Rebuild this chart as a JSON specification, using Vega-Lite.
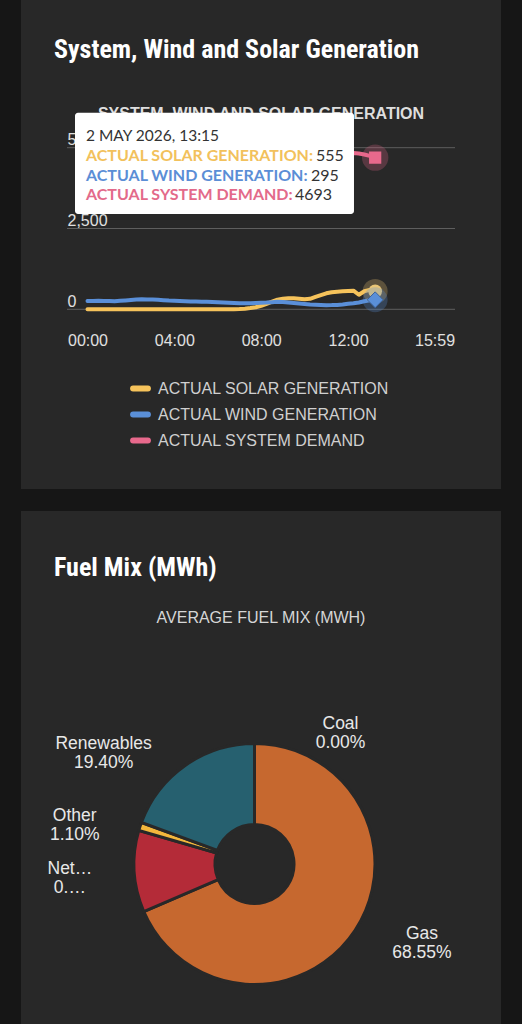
{
  "$schema": "https://vega.github.io/schema/vega-lite/v6.json",
  "background": "#161616",
  "padding": {"left": 21, "right": 21, "top": 0, "bottom": 0},
  "spacing": 22,
  "resolve": {"scale": {"color": "independent"}, "legend": {"color": "independent"}},
  "config": {
    "view": {"fill": "#282828", "stroke": null}
  },
  "datasets": {
    "gen": [
      {"time": "2026-05-02T00:00", "ACTUAL SOLAR GENERATION": 0, "ACTUAL WIND GENERATION": 255, "ACTUAL SYSTEM DEMAND": 4350},
      {"time": "2026-05-02T00:15", "ACTUAL SOLAR GENERATION": 0, "ACTUAL WIND GENERATION": 258, "ACTUAL SYSTEM DEMAND": 4310},
      {"time": "2026-05-02T00:30", "ACTUAL SOLAR GENERATION": 0, "ACTUAL WIND GENERATION": 262, "ACTUAL SYSTEM DEMAND": 4270},
      {"time": "2026-05-02T00:45", "ACTUAL SOLAR GENERATION": 0, "ACTUAL WIND GENERATION": 260, "ACTUAL SYSTEM DEMAND": 4220},
      {"time": "2026-05-02T01:00", "ACTUAL SOLAR GENERATION": 0, "ACTUAL WIND GENERATION": 255, "ACTUAL SYSTEM DEMAND": 4170},
      {"time": "2026-05-02T01:15", "ACTUAL SOLAR GENERATION": 0, "ACTUAL WIND GENERATION": 250, "ACTUAL SYSTEM DEMAND": 4120},
      {"time": "2026-05-02T01:30", "ACTUAL SOLAR GENERATION": 0, "ACTUAL WIND GENERATION": 262, "ACTUAL SYSTEM DEMAND": 4070},
      {"time": "2026-05-02T01:45", "ACTUAL SOLAR GENERATION": 0, "ACTUAL WIND GENERATION": 275, "ACTUAL SYSTEM DEMAND": 4030},
      {"time": "2026-05-02T02:00", "ACTUAL SOLAR GENERATION": 0, "ACTUAL WIND GENERATION": 290, "ACTUAL SYSTEM DEMAND": 3990},
      {"time": "2026-05-02T02:15", "ACTUAL SOLAR GENERATION": 0, "ACTUAL WIND GENERATION": 305, "ACTUAL SYSTEM DEMAND": 3950},
      {"time": "2026-05-02T02:30", "ACTUAL SOLAR GENERATION": 0, "ACTUAL WIND GENERATION": 310, "ACTUAL SYSTEM DEMAND": 3910},
      {"time": "2026-05-02T02:45", "ACTUAL SOLAR GENERATION": 0, "ACTUAL WIND GENERATION": 305, "ACTUAL SYSTEM DEMAND": 3880},
      {"time": "2026-05-02T03:00", "ACTUAL SOLAR GENERATION": 0, "ACTUAL WIND GENERATION": 300, "ACTUAL SYSTEM DEMAND": 3850},
      {"time": "2026-05-02T03:15", "ACTUAL SOLAR GENERATION": 0, "ACTUAL WIND GENERATION": 292, "ACTUAL SYSTEM DEMAND": 3820},
      {"time": "2026-05-02T03:30", "ACTUAL SOLAR GENERATION": 0, "ACTUAL WIND GENERATION": 282, "ACTUAL SYSTEM DEMAND": 3790},
      {"time": "2026-05-02T03:45", "ACTUAL SOLAR GENERATION": 0, "ACTUAL WIND GENERATION": 270, "ACTUAL SYSTEM DEMAND": 3760},
      {"time": "2026-05-02T04:00", "ACTUAL SOLAR GENERATION": 0, "ACTUAL WIND GENERATION": 262, "ACTUAL SYSTEM DEMAND": 3740},
      {"time": "2026-05-02T04:15", "ACTUAL SOLAR GENERATION": 0, "ACTUAL WIND GENERATION": 255, "ACTUAL SYSTEM DEMAND": 3720},
      {"time": "2026-05-02T04:30", "ACTUAL SOLAR GENERATION": 0, "ACTUAL WIND GENERATION": 250, "ACTUAL SYSTEM DEMAND": 3700},
      {"time": "2026-05-02T04:45", "ACTUAL SOLAR GENERATION": 0, "ACTUAL WIND GENERATION": 242, "ACTUAL SYSTEM DEMAND": 3690},
      {"time": "2026-05-02T05:00", "ACTUAL SOLAR GENERATION": 0, "ACTUAL WIND GENERATION": 238, "ACTUAL SYSTEM DEMAND": 3680},
      {"time": "2026-05-02T05:15", "ACTUAL SOLAR GENERATION": 0, "ACTUAL WIND GENERATION": 235, "ACTUAL SYSTEM DEMAND": 3680},
      {"time": "2026-05-02T05:30", "ACTUAL SOLAR GENERATION": 0, "ACTUAL WIND GENERATION": 232, "ACTUAL SYSTEM DEMAND": 3690},
      {"time": "2026-05-02T05:45", "ACTUAL SOLAR GENERATION": 0, "ACTUAL WIND GENERATION": 226, "ACTUAL SYSTEM DEMAND": 3700},
      {"time": "2026-05-02T06:00", "ACTUAL SOLAR GENERATION": 0, "ACTUAL WIND GENERATION": 218, "ACTUAL SYSTEM DEMAND": 3720},
      {"time": "2026-05-02T06:15", "ACTUAL SOLAR GENERATION": 0, "ACTUAL WIND GENERATION": 210, "ACTUAL SYSTEM DEMAND": 3750},
      {"time": "2026-05-02T06:30", "ACTUAL SOLAR GENERATION": 2, "ACTUAL WIND GENERATION": 202, "ACTUAL SYSTEM DEMAND": 3790},
      {"time": "2026-05-02T06:45", "ACTUAL SOLAR GENERATION": 5, "ACTUAL WIND GENERATION": 196, "ACTUAL SYSTEM DEMAND": 3840},
      {"time": "2026-05-02T07:00", "ACTUAL SOLAR GENERATION": 10, "ACTUAL WIND GENERATION": 190, "ACTUAL SYSTEM DEMAND": 3900},
      {"time": "2026-05-02T07:15", "ACTUAL SOLAR GENERATION": 20, "ACTUAL WIND GENERATION": 186, "ACTUAL SYSTEM DEMAND": 3960},
      {"time": "2026-05-02T07:30", "ACTUAL SOLAR GENERATION": 38, "ACTUAL WIND GENERATION": 188, "ACTUAL SYSTEM DEMAND": 4020},
      {"time": "2026-05-02T07:45", "ACTUAL SOLAR GENERATION": 65, "ACTUAL WIND GENERATION": 194, "ACTUAL SYSTEM DEMAND": 4090},
      {"time": "2026-05-02T08:00", "ACTUAL SOLAR GENERATION": 110, "ACTUAL WIND GENERATION": 200, "ACTUAL SYSTEM DEMAND": 4160},
      {"time": "2026-05-02T08:15", "ACTUAL SOLAR GENERATION": 170, "ACTUAL WIND GENERATION": 208, "ACTUAL SYSTEM DEMAND": 4230},
      {"time": "2026-05-02T08:30", "ACTUAL SOLAR GENERATION": 240, "ACTUAL WIND GENERATION": 220, "ACTUAL SYSTEM DEMAND": 4300},
      {"time": "2026-05-02T08:45", "ACTUAL SOLAR GENERATION": 300, "ACTUAL WIND GENERATION": 232, "ACTUAL SYSTEM DEMAND": 4370},
      {"time": "2026-05-02T09:00", "ACTUAL SOLAR GENERATION": 330, "ACTUAL WIND GENERATION": 225, "ACTUAL SYSTEM DEMAND": 4430},
      {"time": "2026-05-02T09:15", "ACTUAL SOLAR GENERATION": 345, "ACTUAL WIND GENERATION": 212, "ACTUAL SYSTEM DEMAND": 4490},
      {"time": "2026-05-02T09:30", "ACTUAL SOLAR GENERATION": 340, "ACTUAL WIND GENERATION": 198, "ACTUAL SYSTEM DEMAND": 4540},
      {"time": "2026-05-02T09:45", "ACTUAL SOLAR GENERATION": 325, "ACTUAL WIND GENERATION": 182, "ACTUAL SYSTEM DEMAND": 4590},
      {"time": "2026-05-02T10:00", "ACTUAL SOLAR GENERATION": 312, "ACTUAL WIND GENERATION": 165, "ACTUAL SYSTEM DEMAND": 4630},
      {"time": "2026-05-02T10:15", "ACTUAL SOLAR GENERATION": 325, "ACTUAL WIND GENERATION": 150, "ACTUAL SYSTEM DEMAND": 4670},
      {"time": "2026-05-02T10:30", "ACTUAL SOLAR GENERATION": 385, "ACTUAL WIND GENERATION": 140, "ACTUAL SYSTEM DEMAND": 4700},
      {"time": "2026-05-02T10:45", "ACTUAL SOLAR GENERATION": 440, "ACTUAL WIND GENERATION": 133, "ACTUAL SYSTEM DEMAND": 4730},
      {"time": "2026-05-02T11:00", "ACTUAL SOLAR GENERATION": 495, "ACTUAL WIND GENERATION": 128, "ACTUAL SYSTEM DEMAND": 4760},
      {"time": "2026-05-02T11:15", "ACTUAL SOLAR GENERATION": 530, "ACTUAL WIND GENERATION": 130, "ACTUAL SYSTEM DEMAND": 4780},
      {"time": "2026-05-02T11:30", "ACTUAL SOLAR GENERATION": 545, "ACTUAL WIND GENERATION": 136, "ACTUAL SYSTEM DEMAND": 4800},
      {"time": "2026-05-02T11:45", "ACTUAL SOLAR GENERATION": 555, "ACTUAL WIND GENERATION": 150, "ACTUAL SYSTEM DEMAND": 4815},
      {"time": "2026-05-02T12:00", "ACTUAL SOLAR GENERATION": 565, "ACTUAL WIND GENERATION": 170, "ACTUAL SYSTEM DEMAND": 4825},
      {"time": "2026-05-02T12:15", "ACTUAL SOLAR GENERATION": 575, "ACTUAL WIND GENERATION": 188, "ACTUAL SYSTEM DEMAND": 4835},
      {"time": "2026-05-02T12:30", "ACTUAL SOLAR GENERATION": 450, "ACTUAL WIND GENERATION": 212, "ACTUAL SYSTEM DEMAND": 4820},
      {"time": "2026-05-02T12:45", "ACTUAL SOLAR GENERATION": 560, "ACTUAL WIND GENERATION": 250, "ACTUAL SYSTEM DEMAND": 4790},
      {"time": "2026-05-02T13:00", "ACTUAL SOLAR GENERATION": 600, "ACTUAL WIND GENERATION": 280, "ACTUAL SYSTEM DEMAND": 4745},
      {"time": "2026-05-02T13:15", "ACTUAL SOLAR GENERATION": 555, "ACTUAL WIND GENERATION": 295, "ACTUAL SYSTEM DEMAND": 4693}
    ],
    "gridvals": [{"v": 0}, {"v": 2500}, {"v": 5000}],
    "fuel": [
      {"fuel": "Coal", "pct": 0.0, "label": "Coal\n0.00%"},
      {"fuel": "Gas", "pct": 68.55, "label": "Gas\n68.55%"},
      {"fuel": "Net Import", "pct": 10.95, "label": "Net…\n0.…"},
      {"fuel": "Other", "pct": 1.10, "label": "Other\n1.10%"},
      {"fuel": "Renewables", "pct": 19.40, "label": "Renewables\n19.40%"}
    ]
  },
  "vconcat": [
    {
      "width": 480,
      "height": 489,
      "view": {"fill": "#282828", "stroke": null},
      "title": {"text": "System, Wind and Solar Generation", "anchor": "start", "frame": "group", "dx": 33, "offset": -84, "baseline": "alphabetic", "font": "Roboto Condensed, Lato, sans-serif", "fontSize": 26, "fontWeight": "bold", "color": "#ffffff"},
      "layer": [
        {
          "data": {"name": "gridvals"},
          "mark": {"type": "rule", "stroke": "#5e5e5e", "strokeWidth": 1},
          "encoding": {
            "y": {"field": "v", "type": "quantitative", "scale": {"domain": [-5560, 9570], "nice": false, "zero": false}},
            "x": {"datum": {"year": 2026, "month": 5, "date": 1, "hours": 23, "minutes": 3, "seconds": 20}, "type": "temporal", "scale": {"domain": [{"year": 2026, "month": 5, "date": 1, "hours": 20, "minutes": 56, "seconds": 13}, {"year": 2026, "month": 5, "date": 2, "hours": 19, "minutes": 2, "seconds": 47}], "nice": false}},
            "x2": {"datum": {"year": 2026, "month": 5, "date": 2, "hours": 16, "minutes": 55, "seconds": 41}}
          }
        },
        {
          "data": {"name": "gen"},
          "transform": [{"fold": ["ACTUAL SOLAR GENERATION", "ACTUAL WIND GENERATION", "ACTUAL SYSTEM DEMAND"], "as": ["series", "value"]}],
          "mark": {"type": "line", "strokeWidth": 4, "strokeJoin": "round", "strokeCap": "round"},
          "encoding": {
            "x": {
              "field": "time", "type": "temporal",
              "scale": {"domain": [{"year": 2026, "month": 5, "date": 1, "hours": 20, "minutes": 56, "seconds": 13}, {"year": 2026, "month": 5, "date": 2, "hours": 19, "minutes": 2, "seconds": 47}], "nice": false},
              "axis": {
                "values": [{"year": 2026, "month": 5, "date": 2, "hours": 0}, {"year": 2026, "month": 5, "date": 2, "hours": 4}, {"year": 2026, "month": 5, "date": 2, "hours": 8}, {"year": 2026, "month": 5, "date": 2, "hours": 12}, {"year": 2026, "month": 5, "date": 2, "hours": 15, "minutes": 59}],
                "format": "%H:%M", "title": null, "grid": false, "domain": false, "ticks": false,
                "labelPadding": -149, "labelBaseline": "middle", "labelFlush": false, "labelOverlap": false,
                "labelFont": "Liberation Sans", "labelFontSize": 16, "labelColor": "#e0e0e0"
              }
            },
            "y": {
              "field": "value", "type": "quantitative",
              "scale": {"domain": [-5560, 9570], "nice": false, "zero": false},
              "axis": {
                "values": [0, 2500, 5000], "format": ",d", "grid": false, "domain": false, "ticks": false,
                "labelAlign": "left", "labelBaseline": "bottom", "labelPadding": -46, "labelOverlap": false, "labelFlush": false,
                "labelFont": "Liberation Sans", "labelFontSize": 16, "labelColor": "#e0e0e0", "zindex": 0,
                "title": "SYSTEM, WIND AND SOLAR GENERATION", "titleAngle": 0, "titleX": 239.5, "titleY": 113,
                "titleAlign": "center", "titleBaseline": "middle", "titleFont": "Liberation Sans", "titleFontSize": 16,
                "titleFontWeight": "bold", "titleColor": "#dedede"
              }
            },
            "color": {
              "field": "series", "type": "nominal",
              "scale": {"domain": ["ACTUAL SOLAR GENERATION", "ACTUAL WIND GENERATION", "ACTUAL SYSTEM DEMAND"], "range": ["#f6c35b", "#5a8fd8", "#e8698c"]},
              "legend": {
                "title": null, "orient": "none", "legendX": 109, "legendY": 378, "direction": "vertical",
                "symbolType": "stroke", "symbolStrokeWidth": 6, "symbolSize": 220, "symbolOpacity": 1,
                "labelFont": "Liberation Sans", "labelFontSize": 16, "labelColor": "#d0d0d0", "labelLimit": 400,
                "rowPadding": 1, "labelOffset": 7, "padding": 0,
                "encode": {"symbols": {"update": {"strokeCap": {"value": "round"}}}}
              }
            }
          }
        },
        {
          "data": {"name": "gen"},
          "transform": [
            {"fold": ["ACTUAL SOLAR GENERATION"], "as": ["series", "value"]},
            {"window": [{"op": "row_number", "as": "rn"}], "sort": [{"field": "time", "order": "descending"}]},
            {"filter": "datum.rn == 1"}
          ],
          "layer": [
            {"mark": {"type": "point", "filled": true, "opacity": 0.28, "size": 620, "shape": "circle", "color": "#e9c172"}},
            {"mark": {"type": "point", "filled": true, "opacity": 1, "size": 190, "shape": "circle", "color": "#e9c677"}}
          ],
          "encoding": {
            "x": {"field": "time", "type": "temporal"},
            "y": {"field": "value", "type": "quantitative"}
          }
        },
        {
          "data": {"name": "gen"},
          "transform": [
            {"fold": ["ACTUAL WIND GENERATION"], "as": ["series", "value"]},
            {"window": [{"op": "row_number", "as": "rn"}], "sort": [{"field": "time", "order": "descending"}]},
            {"filter": "datum.rn == 1"}
          ],
          "layer": [
            {"mark": {"type": "point", "filled": true, "opacity": 0.28, "size": 620, "shape": "circle", "color": "#5a8fd8"}},
            {"mark": {"type": "point", "filled": true, "opacity": 1, "size": 250, "shape": "diamond", "color": "#5a8fd8", "stroke": "#3d6399", "strokeWidth": 1}}
          ],
          "encoding": {
            "x": {"field": "time", "type": "temporal"},
            "y": {"field": "value", "type": "quantitative"}
          }
        },
        {
          "data": {"name": "gen"},
          "transform": [
            {"fold": ["ACTUAL SYSTEM DEMAND"], "as": ["series", "value"]},
            {"window": [{"op": "row_number", "as": "rn"}], "sort": [{"field": "time", "order": "descending"}]},
            {"filter": "datum.rn == 1"}
          ],
          "layer": [
            {"mark": {"type": "point", "filled": true, "opacity": 0.25, "size": 700, "shape": "circle", "color": "#e8698c"}},
            {"mark": {"type": "point", "filled": true, "opacity": 1, "size": 150, "shape": "square", "color": "#e8698c"}}
          ],
          "encoding": {
            "x": {"field": "time", "type": "temporal"},
            "y": {"field": "value", "type": "quantitative"}
          }
        },
        {
          "data": {"values": [{}]},
          "mark": {"type": "rect", "fill": "#ffffff", "cornerRadius": 3},
          "encoding": {
            "x": {"datum": {"year": 2026, "month": 5, "date": 1, "hours": 23, "minutes": 25, "seconds": 27}, "type": "temporal"},
            "x2": {"datum": {"year": 2026, "month": 5, "date": 2, "hours": 12, "minutes": 16, "seconds": 30}},
            "y": {"datum": 6083, "type": "quantitative"},
            "y2": {"datum": 2949}
          }
        },
        {
          "data": {"values": [{}]},
          "mark": {"type": "text", "align": "left", "baseline": "alphabetic", "font": "Lato", "fontSize": 15.5, "fontWeight": "normal", "fill": "#333333", "text": "2 MAY 2026, 13:15"},
          "encoding": {
            "x": {"datum": {"year": 2026, "month": 5, "date": 1, "hours": 23, "minutes": 55, "seconds": 51}, "type": "temporal"},
            "y": {"datum": 5200, "type": "quantitative"}
          }
        },
        {
          "data": {"values": [{}]},
          "mark": {"type": "text", "align": "left", "baseline": "alphabetic", "font": "Lato", "fontSize": 16, "fontWeight": "bold", "fill": "#f2c15c", "text": "ACTUAL SOLAR GENERATION:"},
          "encoding": {
            "x": {"datum": {"year": 2026, "month": 5, "date": 1, "hours": 23, "minutes": 55, "seconds": 51}, "type": "temporal"},
            "y": {"datum": 4590, "type": "quantitative"}
          }
        },
        {
          "data": {"values": [{}]},
          "mark": {"type": "text", "align": "left", "baseline": "alphabetic", "font": "Lato", "fontSize": 16, "fontWeight": "normal", "fill": "#333333", "text": "555"},
          "encoding": {
            "x": {"datum": {"year": 2026, "month": 5, "date": 2, "hours": 10, "minutes": 31, "seconds": 30}, "type": "temporal"},
            "y": {"datum": 4590, "type": "quantitative"}
          }
        },
        {
          "data": {"values": [{}]},
          "mark": {"type": "text", "align": "left", "baseline": "alphabetic", "font": "Lato", "fontSize": 16, "fontWeight": "bold", "fill": "#5b8ed6", "text": "ACTUAL WIND GENERATION:"},
          "encoding": {
            "x": {"datum": {"year": 2026, "month": 5, "date": 1, "hours": 23, "minutes": 55, "seconds": 51}, "type": "temporal"},
            "y": {"datum": 3975, "type": "quantitative"}
          }
        },
        {
          "data": {"values": [{}]},
          "mark": {"type": "text", "align": "left", "baseline": "alphabetic", "font": "Lato", "fontSize": 16, "fontWeight": "normal", "fill": "#333333", "text": "295"},
          "encoding": {
            "x": {"datum": {"year": 2026, "month": 5, "date": 2, "hours": 10, "minutes": 17, "seconds": 42}, "type": "temporal"},
            "y": {"datum": 3975, "type": "quantitative"}
          }
        },
        {
          "data": {"values": [{}]},
          "mark": {"type": "text", "align": "left", "baseline": "alphabetic", "font": "Lato", "fontSize": 16, "fontWeight": "bold", "fill": "#e36a8a", "text": "ACTUAL SYSTEM DEMAND:"},
          "encoding": {
            "x": {"datum": {"year": 2026, "month": 5, "date": 1, "hours": 23, "minutes": 55, "seconds": 51}, "type": "temporal"},
            "y": {"datum": 3375, "type": "quantitative"}
          }
        },
        {
          "data": {"values": [{}]},
          "mark": {"type": "text", "align": "left", "baseline": "alphabetic", "font": "Lato", "fontSize": 16, "fontWeight": "normal", "fill": "#333333", "text": "4693"},
          "encoding": {
            "x": {"datum": {"year": 2026, "month": 5, "date": 2, "hours": 9, "minutes": 33, "seconds": 29}, "type": "temporal"},
            "y": {"datum": 3375, "type": "quantitative"}
          }
        }
      ]
    },
    {
      "spacing": 0,
      "vconcat": [
        {
          "width": 480,
          "height": 193,
          "view": {"fill": "#282828", "stroke": null},
          "title": {"text": "Fuel Mix (MWh)", "anchor": "start", "frame": "group", "dx": 33, "offset": -91, "baseline": "alphabetic", "font": "Roboto Condensed, Lato, sans-serif", "fontSize": 26, "fontWeight": "bold", "color": "#ffffff"},
          "data": {"values": [{}]},
          "mark": {"type": "text", "text": "AVERAGE FUEL MIX (MWH)", "baseline": "top", "align": "center", "dy": 2, "font": "Liberation Sans", "fontSize": 16, "fill": "#d6d6d6"}
        },
        {
          "spacing": 0,
          "hconcat": [
            {
              "width": 467,
              "height": 320,
              "view": {"fill": "#282828", "stroke": null},
              "data": {"name": "fuel"},
              "layer": [
                {
                  "mark": {"type": "arc", "innerRadius": 39.5, "outerRadius": 120.5, "stroke": "#282828", "strokeWidth": 3},
                  "encoding": {
                    "theta": {"field": "pct", "type": "quantitative", "stack": true},
                    "order": {"field": "fuel", "type": "nominal", "sort": "ascending"},
                    "color": {"field": "fuel", "type": "nominal", "scale": {"domain": ["Coal", "Gas", "Net Import", "Other", "Renewables"], "range": ["#8a8a8a", "#c6682f", "#b42b38", "#f3b73c", "#26606f"]}, "legend": null}
                  }
                },
                {
                  "mark": {
                    "type": "text", "radius": 185, "align": "center", "baseline": "middle", "lineBreak": "\n",
                    "font": "Liberation Sans", "fontSize": 17.5, "lineHeight": 19, "fill": "#e8e8e8",
                    "dx": {"expr": "datum.fuel == 'Coal' ? 86 : datum.fuel == 'Gas' ? 13 : datum.fuel == 'Other' ? -4 : datum.fuel == 'Renewables' ? -45 : 0"},
                    "dy": {"expr": "datum.fuel == 'Coal' ? 45 : datum.fuel == 'Gas' ? -32 : datum.fuel == 'Other' ? 10 : datum.fuel == 'Renewables' ? 32 : -6"}
                  },
                  "encoding": {
                    "theta": {"field": "pct", "type": "quantitative", "stack": true},
                    "order": {"field": "fuel", "type": "nominal", "sort": "ascending"},
                    "detail": {"field": "fuel", "type": "nominal"},
                    "text": {"field": "label", "type": "nominal"}
                  }
                }
              ]
            },
            {
              "width": 13,
              "height": 320,
              "view": {"fill": "#282828", "stroke": null},
              "data": {"values": [{}]},
              "mark": {"type": "text", "text": ""}
            }
          ]
        }
      ]
    }
  ]
}
